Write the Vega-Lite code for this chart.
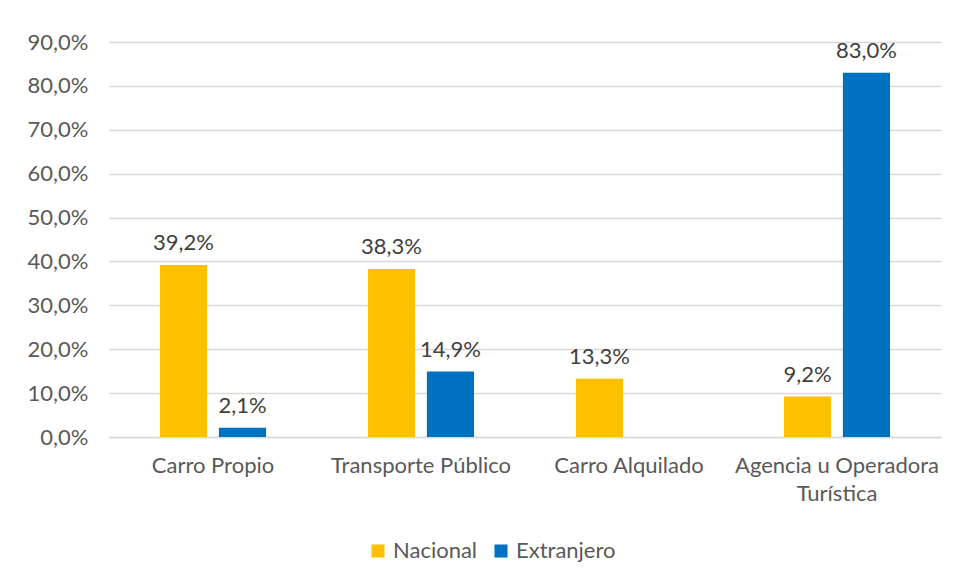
{
  "$schema": "https://vega.github.io/schema/vega-lite/v6.json",
  "width": 832,
  "height": 395,
  "autosize": "none",
  "padding": {"left": 109, "top": 42, "right": 14, "bottom": 144},
  "background": "white",
  "config": {
    "locale": {"number": {"decimal": ",", "thousands": ".", "grouping": [3], "currency": ["", " €"]}},
    "view": {"stroke": null},
    "font": "Lato"
  },
  "data": {
    "values": [
      {"categoria": "Carro Propio", "serie": "Nacional", "valor": 0.392},
      {"categoria": "Carro Propio", "serie": "Extranjero", "valor": 0.021},
      {"categoria": "Transporte Público", "serie": "Nacional", "valor": 0.383},
      {"categoria": "Transporte Público", "serie": "Extranjero", "valor": 0.149},
      {"categoria": "Carro Alquilado", "serie": "Nacional", "valor": 0.133},
      {"categoria": "Agencia u Operadora Turística", "serie": "Nacional", "valor": 0.092},
      {"categoria": "Agencia u Operadora Turística", "serie": "Extranjero", "valor": 0.83}
    ]
  },
  "encoding": {
    "x": {
      "field": "categoria",
      "type": "nominal",
      "sort": null,
      "scale": {"paddingInner": 0.49, "paddingOuter": 0.245},
      "axis": {
        "title": null,
        "labelAngle": 0,
        "labelFontSize": 22,
        "labelColor": "#595959",
        "labelPadding": 18,
        "labelLineHeight": 28,
        "labelLimit": 400,
        "ticks": false,
        "domainColor": "#D9D9D9",
        "domainWidth": 1.5,
        "labelExpr": "datum.label == 'Agencia u Operadora Turística' ? ['Agencia u Operadora', 'Turística'] : datum.label"
      }
    },
    "xOffset": {"field": "serie", "sort": ["Nacional", "Extranjero"], "scale": {"paddingInner": 0.2}},
    "y": {
      "field": "valor",
      "type": "quantitative",
      "scale": {"domain": [0, 0.9]},
      "axis": {
        "title": null,
        "values": [0, 0.1, 0.2, 0.3, 0.4, 0.5, 0.6, 0.7, 0.8, 0.9],
        "format": ".1%",
        "labelFontSize": 22,
        "labelColor": "#595959",
        "labelPadding": 21,
        "ticks": false,
        "domain": false,
        "gridColor": "#D9D9D9",
        "gridWidth": 1.5
      }
    }
  },
  "layer": [
    {
      "mark": {"type": "bar"},
      "encoding": {
        "color": {
          "field": "serie",
          "type": "nominal",
          "scale": {"domain": ["Nacional", "Extranjero"], "range": ["#FFC000", "#0070C0"]},
          "legend": {
            "title": null,
            "orient": "none",
            "direction": "horizontal",
            "legendX": 258,
            "legendY": 498,
            "symbolType": "square",
            "symbolSize": 170,
            "symbolStrokeWidth": 0,
            "labelFontSize": 22,
            "labelColor": "#595959",
            "columnPadding": 12
          }
        }
      }
    },
    {
      "mark": {"type": "text", "baseline": "bottom", "dy": -10, "fontSize": 22, "color": "#404040"},
      "encoding": {
        "text": {"field": "valor", "type": "quantitative", "format": ".1%"}
      }
    }
  ]
}
